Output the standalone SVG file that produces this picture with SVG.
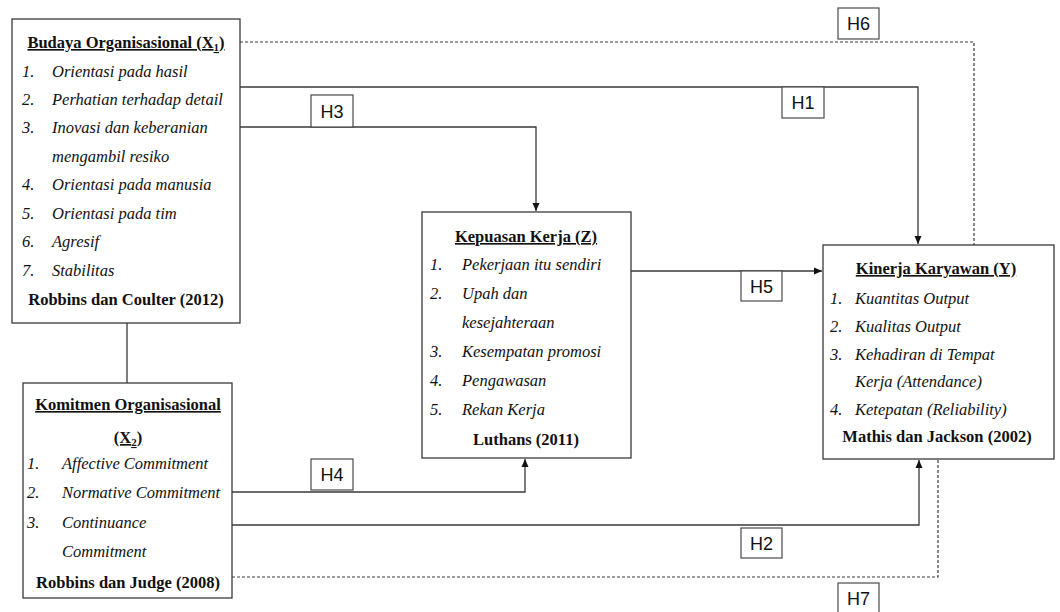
<svg xmlns="http://www.w3.org/2000/svg" width="1060" height="612" viewBox="0 0 1060 612">
<style>
.box{fill:#fff;stroke:#3a3a3a;stroke-width:1.3}
.lbl{fill:#fff;stroke:#4a4a4a;stroke-width:1.2}
.t{font-family:'Liberation Serif','Times New Roman','DejaVu Serif',serif;font-size:16.5px;fill:#111}
.it{font-style:italic}
.b{font-weight:bold}
.u{text-decoration:underline}
.h{font-family:'Liberation Sans',Arial,sans-serif;font-size:18px;fill:#111;text-anchor:middle}
.ln{fill:none;stroke:#3a3a3a;stroke-width:1.3}
.ds{fill:none;stroke:#3a3a3a;stroke-width:1.2;stroke-dasharray:3 2}
</style>
<defs>
<marker id="arr" markerUnits="userSpaceOnUse" markerWidth="8" markerHeight="8" refX="8" refY="4" orient="auto">
<path d="M0,0.5 L8,4 L0,7.5 z" fill="#111"/>
</marker>
</defs>
<rect width="1060" height="612" fill="#fff"/>
<g id="connectors">
<path class="ds" d="M240,42 H974 V245"/>
<path class="ln" d="M240,87 H918 V244" marker-end="url(#arr)"/>
<path class="ln" d="M240,127 H536 V211" marker-end="url(#arr)"/>
<path class="ln" d="M631,271 H822" marker-end="url(#arr)"/>
<path class="ln" d="M127,323 V383"/>
<path class="ln" d="M232,492 H525 V459" marker-end="url(#arr)"/>
<path class="ln" d="M232,525 H919 V460" marker-end="url(#arr)"/>
<path class="ds" d="M232,577 H938 V459"/>
</g>
<g id="budaya">
<rect class="box" x="12" y="19" width="228" height="304"/>
<text class="t b u" x="126" y="48" text-anchor="middle">Budaya Organisasional (X<tspan font-size="11" dy="3">1</tspan><tspan dy="-3">)</tspan></text>
<g class="t it">
<text x="22" y="77">1.</text><text x="52" y="77">Orientasi pada hasil</text>
<text x="22" y="105">2.</text><text x="52" y="105">Perhatian terhadap detail</text>
<text x="22" y="133">3.</text><text x="52" y="133">Inovasi dan keberanian</text>
<text x="52" y="162">mengambil resiko</text>
<text x="22" y="190">4.</text><text x="52" y="190">Orientasi pada manusia</text>
<text x="22" y="219">5.</text><text x="52" y="219">Orientasi pada tim</text>
<text x="22" y="247">6.</text><text x="52" y="247">Agresif</text>
<text x="22" y="276">7.</text><text x="52" y="276">Stabilitas</text>
</g>
<text class="t b" x="126" y="305" text-anchor="middle">Robbins dan Coulter (2012)</text>
</g>
<g id="komitmen">
<rect class="box" x="23" y="383" width="209" height="215"/>
<text class="t b u" x="128" y="410" text-anchor="middle">Komitmen Organisasional</text>
<text class="t b u" x="128" y="443" text-anchor="middle">(X<tspan font-size="11" dy="3">2</tspan><tspan dy="-3">)</tspan></text>
<g class="t it">
<text x="27" y="469">1.</text><text x="62" y="469">Affective Commitment</text>
<text x="27" y="498">2.</text><text x="62" y="498">Normative Commitment</text>
<text x="27" y="528">3.</text><text x="62" y="528">Continuance</text>
<text x="62" y="557">Commitment</text>
</g>
<text class="t b" x="128" y="588" text-anchor="middle">Robbins dan Judge (2008)</text>
</g>
<g id="kepuasan">
<rect class="box" x="422" y="212" width="209" height="246"/>
<text class="t b u" x="526" y="242" text-anchor="middle">Kepuasan Kerja (Z)</text>
<g class="t it">
<text x="430" y="270">1.</text><text x="462" y="270">Pekerjaan itu sendiri</text>
<text x="430" y="299">2.</text><text x="462" y="299">Upah dan</text>
<text x="462" y="328">kesejahteraan</text>
<text x="430" y="357">3.</text><text x="462" y="357">Kesempatan promosi</text>
<text x="430" y="386">4.</text><text x="462" y="386">Pengawasan</text>
<text x="430" y="415">5.</text><text x="462" y="415">Rekan Kerja</text>
</g>
<text class="t b" x="526" y="445" text-anchor="middle">Luthans (2011)</text>
</g>
<g id="kinerja">
<rect class="box" x="823" y="245" width="231" height="214"/>
<text class="t b u" x="936" y="274" text-anchor="middle">Kinerja Karyawan (Y)</text>
<g class="t it">
<text x="830" y="304">1.</text><text x="855" y="304">Kuantitas Output</text>
<text x="830" y="332">2.</text><text x="855" y="332">Kualitas Output</text>
<text x="830" y="360">3.</text><text x="855" y="360">Kehadiran di Tempat</text>
<text x="855" y="387">Kerja (Attendance)</text>
<text x="830" y="415">4.</text><text x="855" y="415">Ketepatan (Reliability)</text>
</g>
<text class="t b" x="937" y="442" text-anchor="middle">Mathis dan Jackson (2002)</text>
</g>
<g id="h6"><rect class="lbl" x="838" y="8" width="41" height="31"/><text class="h" x="858.5" y="30">H6</text></g>
<g id="h1"><rect class="lbl" x="782" y="87" width="42" height="31"/><text class="h" x="803" y="109">H1</text></g>
<g id="h3"><rect class="lbl" x="311" y="95" width="42" height="32"/><text class="h" x="332" y="118">H3</text></g>
<g id="h5"><rect class="lbl" x="741" y="271" width="41" height="30"/><text class="h" x="761.5" y="293">H5</text></g>
<g id="h4"><rect class="lbl" x="311" y="459" width="42" height="31"/><text class="h" x="332" y="481">H4</text></g>
<g id="h2"><rect class="lbl" x="741" y="528" width="41" height="30"/><text class="h" x="761.5" y="550">H2</text></g>
<g id="h7"><rect class="lbl" x="838" y="583" width="41" height="30"/><text class="h" x="858.5" y="605">H7</text></g>
</svg>
